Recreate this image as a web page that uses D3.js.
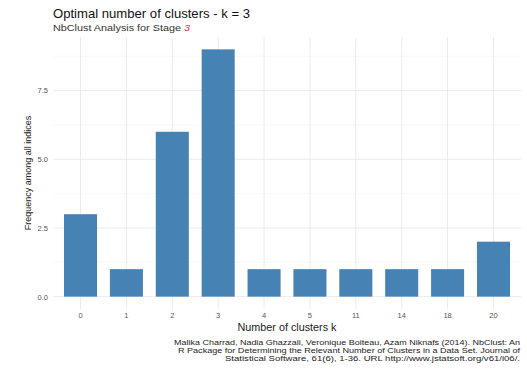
<!DOCTYPE html>
<html>
<head>
<meta charset="utf-8">
<script src="https://cdn.jsdelivr.net/npm/d3@7"></script>
<style>
  html, body { margin: 0; padding: 0; background: #fff; }
  svg { display: block; font-family: "Liberation Sans", Arial, sans-serif; }
</style>
</head>
<body>
<svg id="chart" width="527" height="382"></svg>
<script>
// Number of indices proposing each cluster count
const clusterCounts = ["0", "1", "2", "3", "4", "5", "11", "14", "18", "20"];
const frequencies   = [3, 1, 6, 9, 1, 1, 1, 1, 1, 2];
const yTicks        = [0, 2.5, 5, 7.5];
const yMinorTicks   = [1.25, 3.75, 6.25, 8.75];
const captionLines  = [
  "Malika Charrad, Nadia Ghazzali, Veronique Boiteau, Azam Niknafs (2014). NbClust: An",
  "R Package for Determining the Relevant Number of Clusters in a Data Set. Journal of",
  "Statistical Software, 61(6), 1-36. URL http://www.jstatsoft.org/v61/i06/."
];
const captionWidths = [346, 342, 295];

const svg = d3.select("#chart");
const panel = { left: 53, right: 521, top: 37, bottom: 309 };

const yMax = d3.max(frequencies);
const y = d3.scaleLinear()
  .domain([-0.05 * yMax, yMax * 1.05])
  .range([panel.bottom, panel.top]);

// discrete axis: first/last bar centres sit 0.6 steps inside the panel
const x = d3.scaleBand()
  .domain(clusterCounts)
  .range([panel.left, panel.right])
  .paddingInner(0.28)
  .paddingOuter(0.24);
const xc = d => x(d) + x.bandwidth() / 2;

const grid = svg.append("g");
grid.selectAll("line.minor").data(yMinorTicks).join("line")
  .attr("x1", panel.left).attr("x2", panel.right)
  .attr("y1", d => y(d)).attr("y2", d => y(d))
  .attr("stroke", "#f3f3f3").attr("stroke-width", 0.6);
grid.selectAll("line.major").data(yTicks).join("line")
  .attr("x1", panel.left).attr("x2", panel.right)
  .attr("y1", d => y(d)).attr("y2", d => y(d))
  .attr("stroke", "#ebebeb").attr("stroke-width", 1);
grid.selectAll("line.v").data(clusterCounts).join("line")
  .attr("x1", xc).attr("x2", xc)
  .attr("y1", panel.top).attr("y2", panel.bottom)
  .attr("stroke", "#ebebeb").attr("stroke-width", 1);

// bars
svg.append("g").selectAll("rect").data(frequencies).join("rect")
  .attr("x", (d, i) => x(clusterCounts[i]))
  .attr("width", x.bandwidth())
  .attr("y", d => y(d))
  .attr("height", d => y(0) - y(d))
  .attr("fill", "#4682B4");

// y axis labels
const yAxis = svg.append("g")
  .attr("transform", `translate(${panel.left - 5},0)`)
  .call(d3.axisLeft(y).tickValues(yTicks).tickFormat(d3.format(".1f")).tickSize(0).tickPadding(0));
yAxis.select(".domain").remove();
yAxis.selectAll("text")
  .attr("fill", "#555").attr("font-size", 7.5)
  .attr("font-family", "Liberation Sans, Arial, sans-serif");

// x axis labels
const xAxis = svg.append("g")
  .attr("transform", `translate(0,${panel.bottom + 4})`)
  .call(d3.axisBottom(x).tickSize(0).tickPadding(0));
xAxis.select(".domain").remove();
xAxis.selectAll("text")
  .attr("fill", "#555").attr("font-size", 7.5)
  .attr("font-family", "Liberation Sans, Arial, sans-serif");

// axis titles
svg.append("text")
  .attr("x", (panel.left + panel.right) / 2).attr("y", 331)
  .attr("text-anchor", "middle").attr("font-size", 10).attr("fill", "#222")
  .attr("textLength", 99).attr("lengthAdjust", "spacingAndGlyphs")
  .text("Number of clusters k");

svg.append("text")
  .attr("transform", `translate(31,${(panel.top + panel.bottom) / 2}) rotate(-90)`)
  .attr("text-anchor", "middle").attr("font-size", 9).attr("fill", "#222")
  .text("Frequency among all indices");

// title and subtitle
svg.append("text")
  .attr("x", 53).attr("y", 18)
  .attr("font-size", 13).attr("fill", "#111")
  .attr("textLength", 197).attr("lengthAdjust", "spacingAndGlyphs")
  .text("Optimal number of clusters - k = 3");

const sub = svg.append("text")
  .attr("x", 53).attr("y", 31)
  .attr("font-size", 9).attr("fill", "#333")
  .attr("textLength", 137).attr("lengthAdjust", "spacingAndGlyphs");
sub.append("tspan").text("NbClust Analysis for Stage ");
sub.append("tspan").attr("fill", "#c0395a").attr("font-style", "italic").text("3");

// caption
svg.append("g").selectAll("text").data(captionLines).join("text")
  .attr("x", 520).attr("y", (d, i) => 344.5 + i * 8)
  .attr("text-anchor", "end").attr("font-size", 7).attr("fill", "#222")
  .attr("textLength", (d, i) => captionWidths[i]).attr("lengthAdjust", "spacingAndGlyphs")
  .text(d => d);
</script>
</body>
</html>
